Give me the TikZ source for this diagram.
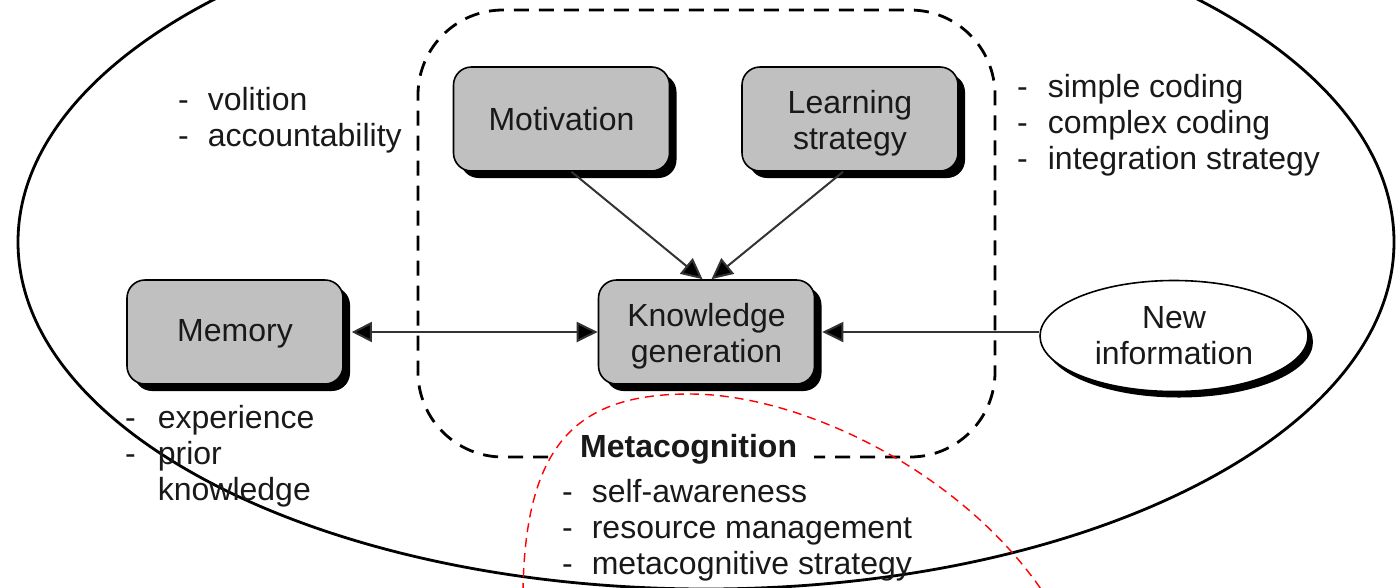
\documentclass[tikz,border=0pt]{standalone}
\usepackage{fontspec}
\setmainfont{Liberation Sans}
\usetikzlibrary{arrows.meta,shapes.geometric,shadows}
\definecolor{boxgray}{RGB}{192,192,192}
% two centred lines, set a little low in their box
\newcommand\twolines[2]{\raisebox{-5pt}[\height][\depth]{\begin{tabular}{@{}c@{}}#1\\#2\end{tabular}}}
\begin{document}
\begin{tikzpicture}[x=1pt,y=-1pt,
  every node/.style={font=\fontsize{32}{36}\selectfont, text=black!90},
  hardshadow/.style={drop shadow={shadow xshift=7pt, shadow yshift=-7pt, fill=black, opacity=1}},
  box/.style={draw=black, line width=1.6pt, fill=boxgray, rounded corners=18pt,
    minimum width=216pt, minimum height=104pt, align=center, hardshadow},
  link/.style={line width=2pt, draw=black!80, -{Triangle[length=21pt,width=20pt,fill=black]}},
  dlink/.style={line width=2pt, draw=black!80, {Triangle[length=20pt,width=20pt,fill=black]}-{Triangle[length=21pt,width=20pt,fill=black]}},
  listing/.style={anchor=base west, inner sep=0pt},
  outline/.style={line width=2.8pt, draw=black},
  zone/.style={line width=2.8pt, draw=black, dash pattern=on 15pt off 10pt, rounded corners=85pt},
  metazone/.style={line width=1.4pt, draw=red, dash pattern=on 9pt off 6pt}
]
\useasboundingbox (0,0) rectangle (1397,587);
\clip (0,0) rectangle (1397,587);

% outer context ellipse
\draw[outline] (706,242) ellipse [x radius=688, y radius=347];

% dashed learning-process frame, open where the heading sits
\draw[zone] (548,457) -- (418,457) -- (418,10) -- (995,10) -- (995,457) -- (814,457);

% red dashed metacognition region
\draw[metazone] (523,592) .. controls (525,440) and (580,394) .. (690,394)
  .. controls (800,394) and (960,470) .. (1043,592);

% main boxes
\node[box] (mot) at (561.5,119) {Motivation};
\node[box] (ls)  at (850,119) {\twolines{Learning}{strategy}};
\node[box] (kg)  at (706.5,332) {\twolines{Knowledge}{generation}};
\node[box] (mem) at (235,332) {\raisebox{-2pt}[\height][\depth]{Memory}};
\node[ellipse, draw=black, line width=1.6pt, fill=white, minimum width=268pt,
  minimum height=111pt, align=center,
  drop shadow={shadow xshift=5pt, shadow yshift=-6pt, fill=black, opacity=1}]
  (ni) at (1174,336) {New\\information};

% connectors
\draw[link] ([xshift=10pt]mot.south) -- ([xshift=-4pt]kg.north);
\draw[link] ([xshift=-7pt]ls.south) -- ([xshift=5pt]kg.north);
\draw[dlink] ([xshift=8pt]mem.east) -- (kg.west);
\draw[link] (ni.west |- kg.east) -- ([xshift=7pt]kg.east);

% attribute lists
\node[listing] (volit) at (178,110)
  {\begin{tabular}[t]{@{}l@{\hspace{19pt}}l@{}} - & volition\\ - & accountability\end{tabular}};
\node[listing] (coding) at (1017,97)
  {\begin{tabular}[t]{@{}l@{\hspace{20pt}}l@{}} - & simple coding\\ - & complex coding\\ - & integration strategy\end{tabular}};
\node[listing] (exper) at (125,428)
  {\begin{tabular}[t]{@{}l@{\hspace{22pt}}l@{}} - & experience\\ - & prior\\ & knowledge\end{tabular}};

% metacognition heading and list
\node[listing, font=\fontsize{32}{36}\selectfont\bfseries] (meta) at (580,457) {Metacognition};
\node[listing] (metalist) at (562,502)
  {\begin{tabular}[t]{@{}l@{\hspace{19pt}}l@{}} - & self-awareness\\ - & resource management\\ - & metacognitive strategy\end{tabular}};
\end{tikzpicture}
\end{document}
